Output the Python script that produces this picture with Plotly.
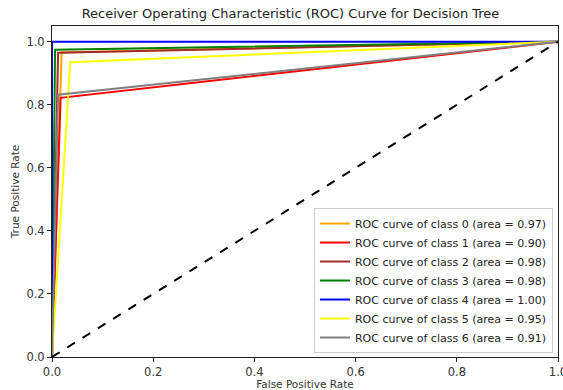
import plotly.graph_objects as go

classes = ["0", "1", "2", "3", "4", "5", "6"]
areas = [0.97, 0.90, 0.98, 0.98, 1.00, 0.95, 0.91]
fpr_points = [0.019, 0.017, 0.012, 0.006, 0.0, 0.036, 0.012]
tpr_points = [0.966, 0.822, 0.965, 0.975, 1.0, 0.935, 0.832]
colors = ["orange", "red", "brown", "green", "blue", "yellow", "gray"]

fig = go.Figure()
for c, a, f, t, col in zip(classes, areas, fpr_points, tpr_points, colors):
    fig.add_trace(go.Scatter(
        x=[0.0, f, 1.0], y=[0.0, t, 1.0], mode="lines",
        line=dict(color=col, width=2),
        name=f"ROC curve of class {c} (area = {a:.2f})",
    ))
fig.add_trace(go.Scatter(x=[0, 1], y=[0, 1], mode="lines",
                         line=dict(color="black", width=2, dash="dash"),
                         showlegend=False))

font = "DejaVu Sans, sans-serif"
fig.update_layout(
    width=563, height=390,
    margin=dict(l=52, r=5, t=26, b=33, autoexpand=False),
    paper_bgcolor="white", plot_bgcolor="white",
    font=dict(family=font, color="#333", size=11.5),
    title=dict(text="Receiver Operating Characteristic (ROC) Curve for Decision Tree",
               x=0.516, xanchor="center", y=0.966, yanchor="middle",
               font=dict(size=13, color="#222")),
    legend=dict(x=0.99, xanchor="right", y=0.012, yanchor="bottom",
                bgcolor="white", bordercolor="#ccc", borderwidth=1,
                font=dict(size=11, color="#222"), tracegroupgap=0,
                itemwidth=30),
    showlegend=True,
)
fig.update_xaxes(range=[0, 1], tickvals=[0, 0.2, 0.4, 0.6, 0.8, 1.0],
                 ticktext=["0.0", "0.2", "0.4", "0.6", "0.8", "1.0"],
                 ticklabeloverflow="allow",
                 showgrid=False, zeroline=False, showline=True, linecolor="#222",
                 linewidth=1, mirror=True, ticks="outside", ticklen=4, tickcolor="#222",
                 title=dict(text="False Positive Rate", font=dict(size=10.5), standoff=2))
fig.update_yaxes(range=[0, 1.05], tickvals=[0, 0.2, 0.4, 0.6, 0.8, 1.0],
                 ticktext=["0.0", "0.2", "0.4", "0.6", "0.8", "1.0"],
                 showgrid=False, zeroline=False, showline=True, linecolor="#222",
                 linewidth=1, mirror=True, ticks="outside", ticklen=4, tickcolor="#222",
                 title=dict(text="True Positive Rate", font=dict(size=10.5), standoff=4))

fig.write_html("out.html", config={"displayModeBar": False},
               post_script="document.body.style.margin='0';document.body.style.overflow='hidden';")
